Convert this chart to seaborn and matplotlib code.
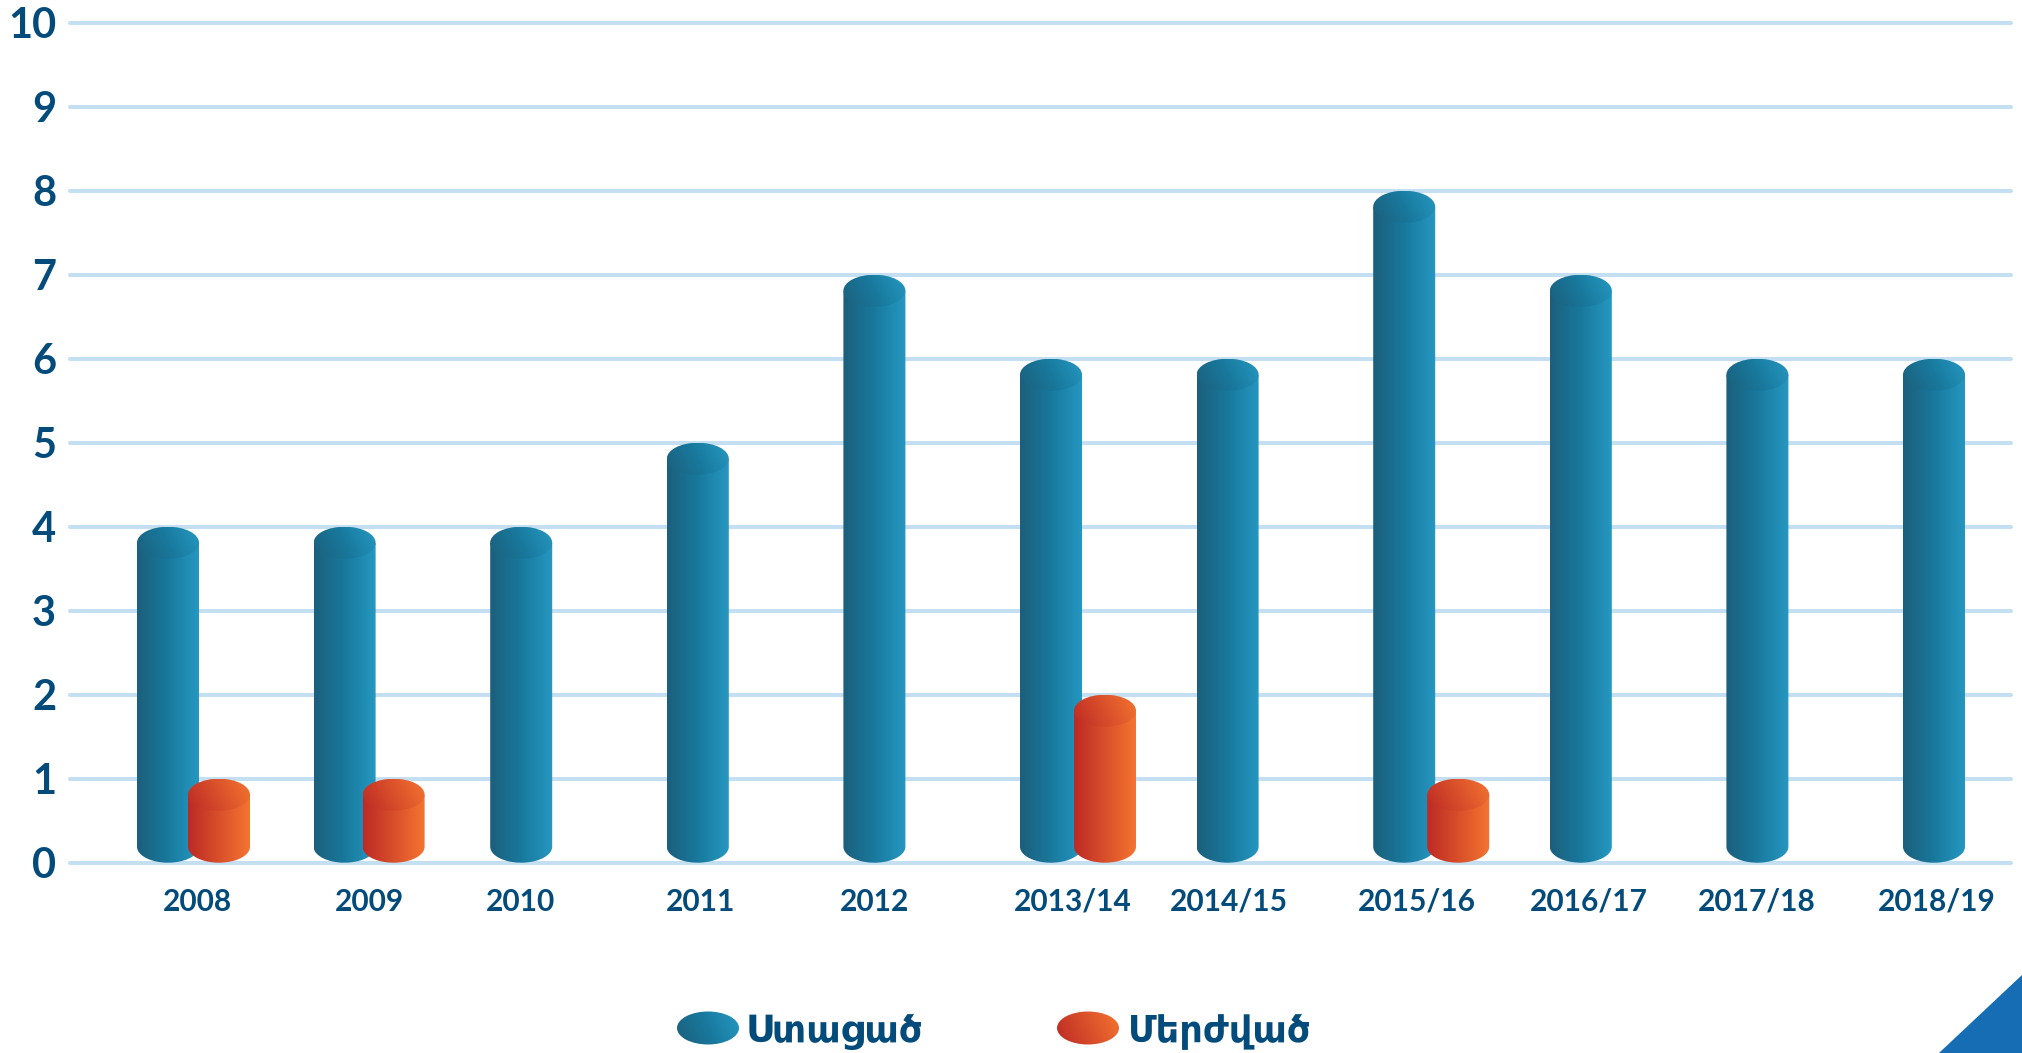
import numpy as np
import pandas as pd
import matplotlib
matplotlib.use("Agg")
import matplotlib.pyplot as plt
import seaborn as sns
from matplotlib.colors import LinearSegmentedColormap
from matplotlib.patches import Ellipse, PathPatch, Polygon
from matplotlib.path import Path

categories = ["2008", "2009", "2010", "2011", "2012", "2013/14", "2014/15",
              "2015/16", "2016/17", "2017/18", "2018/19"]
stayed = [4, 4, 4, 5, 7, 6, 6, 8, 7, 6, 6]
rejected = [1, 1, np.nan, np.nan, np.nan, 2, np.nan, 1, np.nan, np.nan, np.nan]
yticks = list(range(11))
legend_names = ["Ստացած", "Մերժված"]

# layout, in reference pixels
W, H = 2022, 1053
X0, STEP = 168, 176.6
red_shift = [51, 49, 54, 54]
label_shift = [29, 25, -1, 3, 0, 22, 1, 13, 8, -1, 3]

TEXT = "#034b7a"
GRID = "#c5dff2"
blue_cmap = LinearSegmentedColormap.from_list("b", ["#1c5f7c", "#18799d", "#2698c2"])
red_cmap = LinearSegmentedColormap.from_list("r", ["#bd2a25", "#f47430"])

sns.set_theme(style="white")
plt.rcParams["font.family"] = ["Lato", "DejaVu Sans"]

fig = plt.figure(figsize=(W / 100, H / 100), dpi=100)
left, right = 70, 2011
top, bottom = 22.7, 862.7
ax = fig.add_axes([left / W, 1 - bottom / H, (right - left) / W, (bottom - top) / H])

df = pd.DataFrame({"year": categories, "stayed": stayed, "rejected": rejected})
bar_w = 62 / STEP
sns.barplot(data=df, x="year", y="stayed", order=categories, color="#18799d",
            width=bar_w, saturation=1, ax=ax)
sns.barplot(data=df, x="year", y="rejected", order=categories, color="#f47430",
            width=bar_w, saturation=1, ax=ax)

ax.set_xlim((left - X0) / STEP, (right - X0) / STEP)
ax.set_ylim(0, 10)
ry = 16 / 84  # half height of the ellipse, in y units


def fill(axis, cmap, extent, clip, zorder, diagonal=False):
    # gradient image clipped to a shape
    xx, yy = np.meshgrid(np.linspace(0, 1, 128), np.linspace(0, 1, 32))
    grad = xx * 0.8 + (1 - yy) * 0.2 if diagonal else xx
    im = axis.imshow(grad, extent=extent, cmap=cmap, vmin=0, vmax=1, aspect="auto",
                     origin="upper", zorder=zorder, interpolation="bilinear")
    clip.set_transform(axis.transData)
    im.set_clip_path(clip)


def cylinder(bar, cmap, zorder):
    x, w, h = bar.get_x(), bar.get_width(), bar.get_height()
    cx = x + w / 2
    t = np.linspace(np.pi, 2 * np.pi, 40)
    arc = np.column_stack([cx + w / 2 * np.cos(t), ry + ry * np.sin(t)])
    pts = np.vstack([[[x, h - ry]], arc, [[x + w, h - ry]], [[x, h - ry]]])
    fill(ax, cmap, (x, x + w, 0, h - ry), PathPatch(Path(pts), fc="none", ec="none"), zorder)
    cap = Ellipse((cx, h - ry), w, 2 * ry, fc="none", ec="none")
    ax.add_patch(cap)
    fill(ax, cmap, (x, x + w, h - 2 * ry, h), cap, zorder + 0.1, diagonal=True)
    bar.set_visible(False)


blue_bars = list(ax.containers[0])
red_bars = [b for b in ax.containers[1] if np.isfinite(b.get_height()) and b.get_height() > 0]
for bar in blue_bars:
    cylinder(bar, blue_cmap, 3)
for bar, s in zip(red_bars, red_shift):
    bar.set_x(bar.get_x() + s / STEP)
    cylinder(bar, red_cmap, 4)

ax.set_xlim((left - X0) / STEP, (right - X0) / STEP)
ax.set_ylim(0, 10)
ax.set_xlabel("")
ax.set_ylabel("")
ax.set_yticks(yticks)
ax.set_yticklabels([str(v) for v in yticks], fontsize=30, fontweight="bold", color=TEXT)
ax.set_xticks([i + s / STEP for i, s in enumerate(label_shift)])
ax.set_xticklabels(categories, fontsize=21.5, fontweight="bold", color=TEXT)
ax.tick_params(axis="y", length=0, pad=10)
ax.tick_params(axis="x", length=0, pad=18)
ax.grid(axis="y", color=GRID, lw=2.9, zorder=1)
ax.set_axisbelow(True)
for line in ax.get_ygridlines():
    line.set_clip_on(False)
sns.despine(ax=ax, left=True, bottom=True)

# legend and corner triangle, drawn in reference pixels
over = fig.add_axes([0, 0, 1, 1], facecolor="none")
over.set_xlim(0, W)
over.set_ylim(H, 0)
over.axis("off")
for cx, tx, cmap, name in [(708, 746, blue_cmap, legend_names[0]),
                           (1088, 1128, red_cmap, legend_names[1])]:
    e = Ellipse((cx, 1028), 62, 33, fc="none", ec="none")
    over.add_patch(e)
    fill(over, cmap, (cx - 31, cx + 31, 1045, 1011), e, 3, diagonal=True)
    over.text(tx, 1032, name, fontsize=26.5, fontweight="bold", color=TEXT, va="center", ha="left")
over.add_patch(Polygon([(1939, H), (W, 975), (W, H)], fc="#176db3", ec="none"))
over.set_xlim(0, W)
over.set_ylim(H, 0)

fig.savefig("out.png", dpi=100, facecolor="white")
